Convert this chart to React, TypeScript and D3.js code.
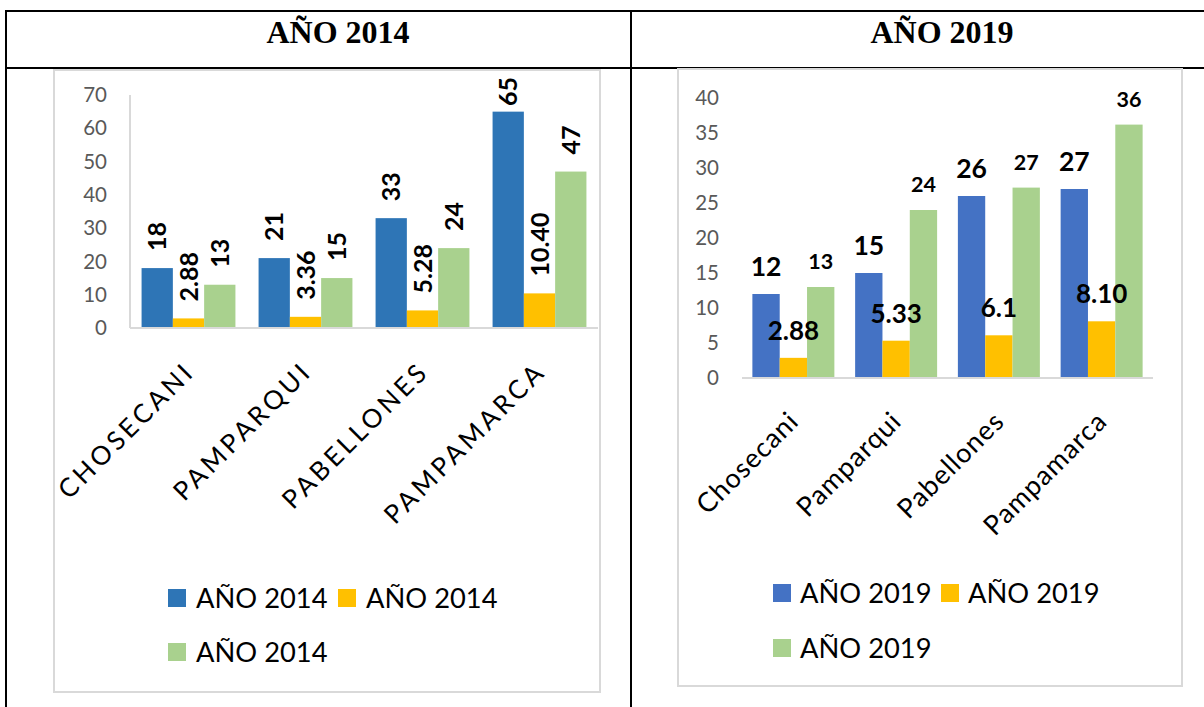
import React from "react";
import * as d3 from "d3";

const categories2014 = ["CHOSECANI", "PAMPARQUI", "PABELLONES", "PAMPAMARCA"];
const categories2019 = ["Chosecani", "Pamparqui", "Pabellones", "Pampamarca"];
const seriesKeys = ["s1", "s2", "s3"];
const values2014_s1 = [18, 21, 33, 65];
const values2014_s2 = [2.88, 3.36, 5.28, 10.4];
const values2014_s3 = [13, 15, 24, 47];
const labels2014_s1 = ["18", "21", "33", "65"];
const labels2014_s2 = ["2.88", "3.36", "5.28", "10.40"];
const labels2014_s3 = ["13", "15", "24", "47"];
const values2019_s1 = [12, 15, 26, 27];
const values2019_s2 = [2.88, 5.33, 6.1, 8.1];
const values2019_s3 = [13, 24, 27.2, 36.2];
const labels2019_s1 = ["12", "15", "26", "27"];
const labels2019_s2 = ["2.88", "5.33", "6.1", "8.10"];
const labels2019_s3 = ["13", "24", "27", "36"];
const ticks2014 = [0, 10, 20, 30, 40, 50, 60, 70];
const ticks2019 = [0, 5, 10, 15, 20, 25, 30, 35, 40];
const legend2014 = ["AÑO 2014", "AÑO 2014", "AÑO 2014"];
const legend2019 = ["AÑO 2019", "AÑO 2019", "AÑO 2019"];

const FONT = "Lato, 'Open Sans', sans-serif";
const colors2014 = ["#2E75B6", "#FFC000", "#A9D18E"];
const colors2019 = ["#4472C4", "#FFC000", "#A9D18E"];

function Chart2014() {
  const x0 = d3.scaleBand<string>().domain(categories2014).range([130, 598]);
  const x1 = d3.scaleBand<string>().domain(seriesKeys).range([0, x0.bandwidth()]).paddingOuter(0.37);
  const y = d3.scaleLinear().domain([0, 70]).range([328, 95]);
  const vals = [values2014_s1, values2014_s2, values2014_s3];
  const labs = [labels2014_s1, labels2014_s2, labels2014_s3];
  const fs = 25;
  return (
    <g>
      <rect x={54} y={70} width={546} height={622} fill="#fff" stroke="#D9D9D9" strokeWidth={2} />
      {ticks2014.map((t) => (
        <text key={t} x={107} y={y(t)} dy="0.35em" textAnchor="end" fontFamily={FONT} fontSize={20.5} fill="#595959">{t}</text>
      ))}
      <line x1={130} x2={130} y1={y(70)} y2={y(0)} stroke="#D9D9D9" strokeWidth={2} />
      {categories2014.map((c, i) => (
        <g key={c}>
          {seriesKeys.map((s, j) => {
            const bx = (x0(c) as number) + (x1(s) as number);
            const bw = x1.bandwidth();
            const v = vals[j][i];
            return <rect key={s} x={bx} y={y(v)} width={bw} height={y(0) - y(v)} fill={colors2014[j]} />;
          })}
        </g>
      ))}
      <line x1={130} x2={598} y1={y(0)} y2={y(0)} stroke="#D9D9D9" strokeWidth={2} />
      {categories2014.map((c, i) =>
        seriesKeys.map((s, j) => {
          const cx = (x0(c) as number) + (x1(s) as number) + x1.bandwidth() / 2;
          const v = vals[j][i];
          const lab = labs[j][i];
          const start = y(v) - 17;
          const estLen = lab.length * 0.58 * fs;
          const clamped = start - estLen < 77;
          const yy = clamped ? 77 : start;
          return (
            <text key={c + s} transform={`translate(${cx},${yy}) rotate(-90)`} dy="0.36em" textAnchor={clamped ? "end" : "start"} fontFamily={FONT} fontWeight="bold" fontSize={fs} fill="#000">{lab}</text>
          );
        })
      )}
      {categories2014.map((c) => {
        const cx = (x0(c) as number) + x0.bandwidth() / 2;
        return (
          <text key={c} transform={`translate(${cx + 8},${y(0) + 45}) rotate(-45)`} textAnchor="end" fontFamily={FONT} fontSize={26} letterSpacing={3.5} fill="#000">{c}</text>
        );
      })}
      {legend2014.map((l, i) => {
        const lx = i === 1 ? 338 : 168;
        const ly = i === 2 ? 652 : 598;
        return (
          <g key={i}>
            <rect x={lx} y={ly - 9} width={18} height={18} fill={colors2014[i]} />
            <text x={lx + 28} y={ly} dy="0.36em" fontFamily={FONT} fontSize={27.3} fill="#000">{l}</text>
          </g>
        );
      })}
    </g>
  );
}

function Chart2019() {
  const x0 = d3.scaleBand<string>().domain(categories2019).range([742, 1153]);
  const x1 = d3.scaleBand<string>().domain(seriesKeys).range([0, x0.bandwidth()]).paddingOuter(0.38);
  const y = d3.scaleLinear().domain([0, 40]).range([378, 98]);
  const vals = [values2019_s1, values2019_s2, values2019_s3];
  const labs = [labels2019_s1, labels2019_s2, labels2019_s3];
  const sizes = [26.5, 26, 21.5];
  return (
    <g>
      <rect x={678} y={69} width={504} height={617} fill="#fff" stroke="#D9D9D9" strokeWidth={2} />
      {ticks2019.map((t) => (
        <text key={t} x={719} y={y(t)} dy="0.35em" textAnchor="end" fontFamily={FONT} fontSize={20.5} fill="#595959">{t}</text>
      ))}
      {categories2019.map((c, i) => (
        <g key={c}>
          {seriesKeys.map((s, j) => {
            const bx = (x0(c) as number) + (x1(s) as number);
            const bw = x1.bandwidth();
            const v = vals[j][i];
            return <rect key={s} x={bx} y={y(v)} width={bw} height={y(0) - y(v)} fill={colors2019[j]} />;
          })}
        </g>
      ))}
      <line x1={742} x2={1153} y1={y(0)} y2={y(0)} stroke="#D9D9D9" strokeWidth={2} />
      {categories2019.map((c, i) =>
        seriesKeys.map((s, j) => {
          const cx = (x0(c) as number) + (x1(s) as number) + x1.bandwidth() / 2;
          const v = vals[j][i];
          return (
            <text key={c + s} x={cx} y={y(v) - 18} textAnchor="middle" fontFamily={FONT} fontWeight="bold" fontSize={sizes[j]} fill="#000">{labs[j][i]}</text>
          );
        })
      )}
      {categories2019.map((c) => {
        const cx = (x0(c) as number) + x0.bandwidth() / 2;
        return (
          <text key={c} transform={`translate(${cx + 7},${y(0) + 45}) rotate(-45)`} textAnchor="end" fontFamily={FONT} fontSize={27} letterSpacing={1} fill="#000">{c}</text>
        );
      })}
      {legend2019.map((l, i) => {
        const lx = i === 1 ? 941 : 773;
        const ly = i === 2 ? 648 : 593;
        return (
          <g key={i}>
            <rect x={lx} y={ly - 9} width={18} height={18} fill={colors2019[i]} />
            <text x={lx + 27} y={ly} dy="0.36em" fontFamily={FONT} fontSize={27.3} fill="#000">{l}</text>
          </g>
        );
      })}
    </g>
  );
}

export default function App() {
  return (
    <svg width={1204} height={707} style={{ position: "absolute", left: 0, top: 0, background: "#fff" }}>
      <rect x={0} y={0} width={1204} height={707} fill="#fff" />
      <line x1={5} x2={1204} y1={11} y2={11} stroke="#000" strokeWidth={2} />
      <line x1={5} x2={1204} y1={68} y2={68} stroke="#000" strokeWidth={2} />
      <line x1={6} x2={6} y1={10} y2={707} stroke="#000" strokeWidth={2} />
      <line x1={631} x2={631} y1={10} y2={707} stroke="#000" strokeWidth={2} />
      <text x={338} y={43} textAnchor="middle" fontFamily="'Liberation Serif', 'Times New Roman', serif" fontWeight="bold" fontSize={32} fill="#000">AÑO 2014</text>
      <text x={942} y={43} textAnchor="middle" fontFamily="'Liberation Serif', 'Times New Roman', serif" fontWeight="bold" fontSize={32} fill="#000">AÑO 2019</text>
      <Chart2014 />
      <Chart2019 />
    </svg>
  );
}
